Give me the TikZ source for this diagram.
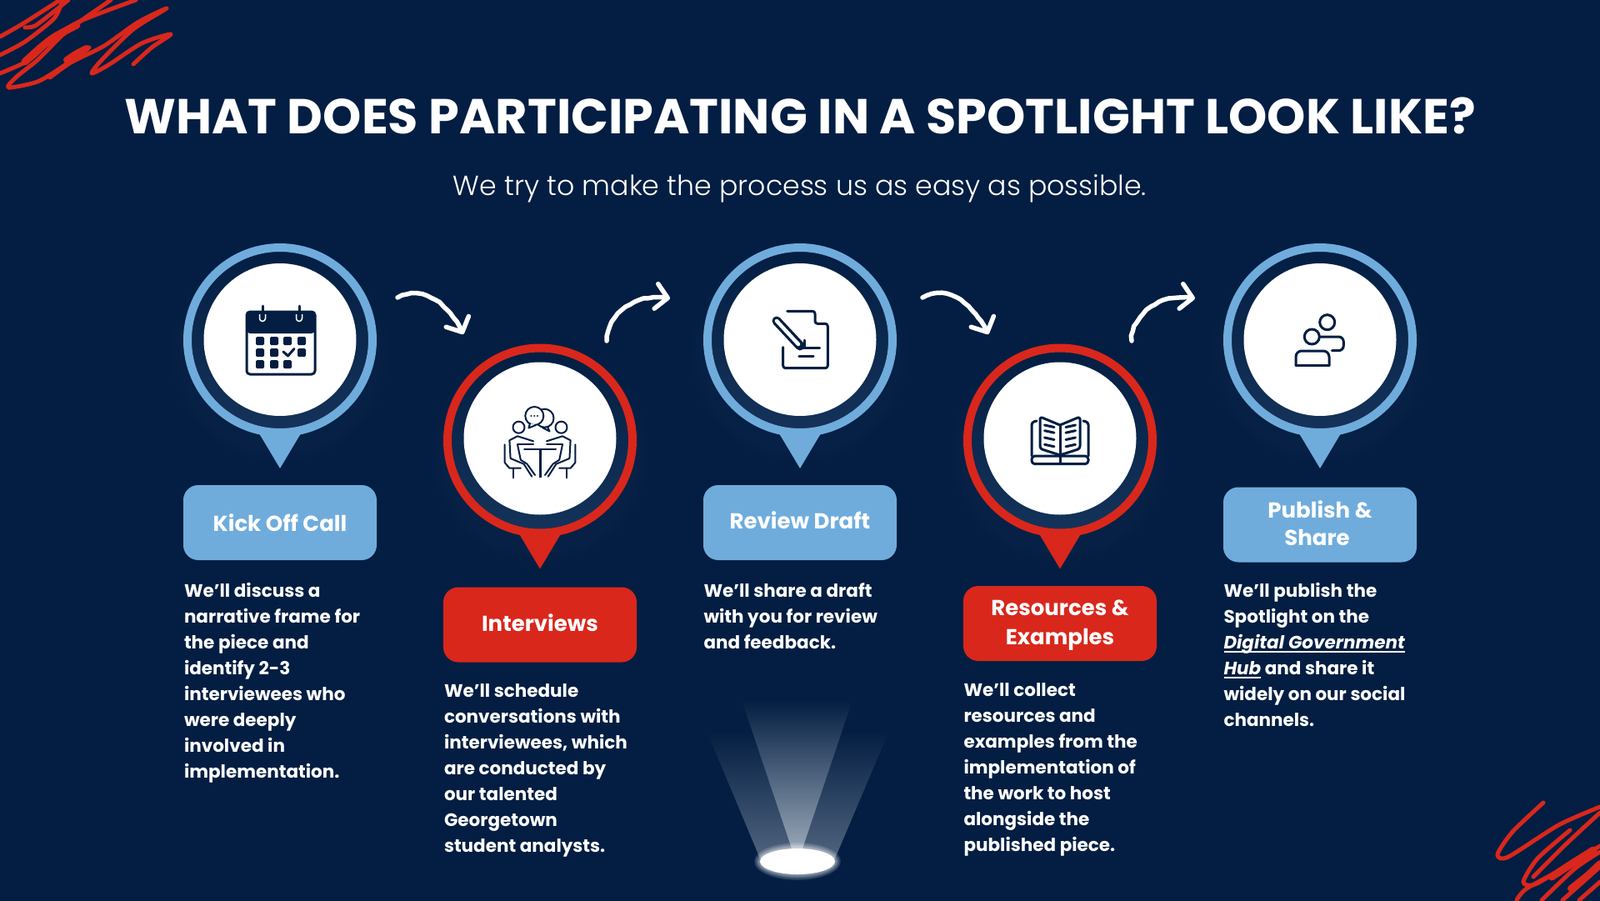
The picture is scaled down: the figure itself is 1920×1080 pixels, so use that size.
\documentclass[tikz,border=0pt]{standalone}
\usepackage{fontspec}
\setmainfont{Poppins}
\newfontfamily\lightfont{Poppins Light}
\usetikzlibrary{arrows.meta,decorations.pathmorphing}
\definecolor{navybg}{RGB}{3,30,66}
\definecolor{navyglow}{RGB}{21,51,90}
\definecolor{pinblue}{RGB}{111,172,220}
\definecolor{pinred}{RGB}{217,39,28}
\definecolor{beamlow}{RGB}{80,100,126}
\definecolor{beamhigh}{RGB}{150,165,182}
\newlength\hublen
\newcommand\hublink[1]{\settowidth{\hublen}{#1}\rlap{\rule[-5pt]{\hublen}{1.8pt}}#1}
\newcommand\liftlabel[2]{\raisebox{#1}[\height][\depth]{#2}}
\tikzset{
  ringnode/.style={circle,draw=#1,line width=10pt,minimum size=222pt,inner sep=0pt,
    top color=navybg,middle color=navybg,bottom color=navyglow},
  facenode/.style={circle,fill=white,minimum size=183pt,inner sep=0pt},
  labelbox/.style={rectangle,rounded corners=18pt,minimum width=232pt,minimum height=90pt,
    inner sep=0pt,align=center,text=white,font=\fontsize{26}{35}\selectfont\bfseries},
  bodytext/.style={anchor=north west,inner sep=0pt,align=left,text=white,
    font=\fontsize{21.5}{31}\selectfont\bfseries},
  iconline/.style={draw=navybg,line width=3pt,line cap=round,line join=round},
  thinline/.style={draw=navybg,line width=2pt,line cap=round,line join=round},
  bendarrow/.style={draw=white,line width=5.5pt,line cap=round,line join=round,
    decoration={random steps,segment length=6pt,amplitude=.7pt,post length=9pt},decorate,
    -{Straight Barb[length=14pt,width=30pt,line width=5.5pt,round]}},
  scribble/.style={draw=pinred,line width=5pt,line cap=round,line join=round},
}
\begin{document}
\begin{tikzpicture}[x=1pt,y=-1pt]
  \useasboundingbox (0,0) rectangle (1920,1080);
  \fill[navybg] (-2,-2) rectangle (1922,1082);

  % corner scribbles
  \draw[scribble] plot[smooth,tension=.45] coordinates {(160,77) (182,57) (205,41) (170,52) (130,78) (110,88) (122,72) (160,35) (200,10) (165,27) (125,55) (85,75) (60,93)};
  \draw[scribble] plot[smooth,tension=.45] coordinates {(107,57) (75,80) (45,98) (10,105) (20,92) (45,72) (75,42) (97,25) (133,0)};
  \draw[scribble] plot[smooth,tension=.45] coordinates {(163,0) (97,25) (65,45) (35,72) (0,88)};
  \draw[scribble] plot[smooth,tension=.45] coordinates {(0,44) (28,28) (72,0)};
  \draw[scribble] plot[smooth,tension=.45] coordinates {(0,66) (30,50) (65,22) (75,0)};
  \draw[scribble] plot[smooth,tension=.45] coordinates {(30,33) (42,31) (62,16) (82,0)};
  \draw[scribble,line width=9pt] plot[smooth,tension=.45] coordinates {(30,74) (50,56) (66,44) (92,30)};
  \draw[scribble,line width=8pt] plot[smooth,tension=.45] coordinates {(80,72) (92,64) (104,58)};
  \draw[scribble] plot[smooth,tension=.45] coordinates {(1852,963) (1815,998) (1797,1025) (1810,1028) (1870,990) (1920,968)};
  \draw[scribble] plot[smooth,tension=.45] coordinates {(1884,996) (1845,1030) (1828,1058) (1842,1061) (1883,1037) (1920,1015)};
  \draw[scribble] plot[smooth,tension=.45] coordinates {(1920,975) (1880,1012) (1840,1052)};
  \draw[scribble] plot[smooth,tension=.45] coordinates {(1820,1080) (1832,1066) (1880,1040)};
  \draw[scribble] plot[smooth,tension=.45] coordinates {(1850,1080) (1890,1042) (1920,1022)};
  \draw[scribble] plot[smooth,tension=.45] coordinates {(1875,1080) (1920,1040)};
  \draw[scribble] plot[smooth,tension=.45] coordinates {(1895,1080) (1920,1058)};
  \draw[scribble,line width=9pt] plot[smooth,tension=.45] coordinates {(1862,1052) (1885,1037) (1912,1020)};
  \draw[scribble,line width=8pt] plot[smooth,tension=.45] coordinates {(1885,1066) (1905,1050) (1920,1036)};

  \node[text=white,font=\fontsize{58.9}{64}\selectfont\bfseries] (titleText) at (960,139) {WHAT DOES PARTICIPATING IN A SPOTLIGHT LOOK LIKE?};
  \node[text=white,font=\fontsize{33.2}{40}\selectfont\lightfont] (subText) at (960,226) {We try to make the process us as easy as possible.};

  % pins
  \foreach \p/\c/\x/\y/\f in {A/pinblue/336/408/407.5,B/pinred/648/528.5/526,C/pinblue/960/408/407.5,D/pinred/1272/528.5/526,E/pinblue/1584/408/407.5}{
    \foreach \r in {130,125,120}{
      \fill[navyglow,opacity=.07] ({\x},{\y+16}) circle (\r);
    }
    \node[ringnode=\c] (pin\p) at (\x,\y) {};
    \path (pin\p) ++(-25,112) coordinate (tip\p l) ++(50,0) coordinate (tip\p r) ++(-25,42) coordinate (tip\p);
    \fill[\c] (tip\p l) -- (tip\p r) -- (tip\p) -- cycle;
    \node[facenode] (face\p) at (\x,\f) {};
  }

  % labels
  \node[labelbox,fill=pinblue] (labelA) at (336,627) {Kick Off Call};
  \node[labelbox,fill=pinred] (labelB) at (648,749.5) {\liftlabel{2.4pt}{Interviews}};
  \node[labelbox,fill=pinblue] (labelC) at (960,627) {\liftlabel{3pt}{Review Draft}};
  \node[labelbox,fill=pinred] (labelD) at (1272,748) {\liftlabel{-2.4pt}{Resources \&}\\\liftlabel{-2.4pt}{Examples}};
  \node[labelbox,fill=pinblue] (labelE) at (1584,629.5) {\liftlabel{1.2pt}{Publish \&}\\\liftlabel{2.4pt}{Share}\hspace*{7pt}};

  % body text
  \path (labelA.south west) ++(1,27) node[bodytext] (textA) {We’ll discuss a\\narrative frame for\\the piece and\\identify 2-3\\interviewees who\\were deeply\\involved in\\implementation.};
  \path (labelB.south west) ++(1,26) node[bodytext] (textB) {We’ll schedule\\conversations with\\interviewees, which\\are conducted by\\our talented\\Georgetown\\student analysts.};
  \path (labelC.south west) ++(0.5,27) node[bodytext] (textC) {We’ll share a draft\\with you for review\\and feedback.};
  \path (labelD.south west) ++(0.5,26) node[bodytext] (textD) {We’ll collect\\resources and\\examples from the\\implementation of\\the work to host\\alongside the\\published piece.};
  \path (labelE.south west) ++(0.5,24) node[bodytext] (textE) {We’ll publish the\\Spotlight on the\\\hublink{\textit{Digital Government}}\\\hublink{\textit{Hub}} and share it\\widely on our social\\channels.};

  % arrows
  \coordinate (bendAs) at (477,357);
  \coordinate (bendAe) at (556,401);
  \draw[bendarrow] (bendAs) .. controls +(30,-15) and +(-18,-38) .. (bendAe);
  \coordinate (bendBs) at (728,409);
  \coordinate (bendBe) at (804,358);
  \draw[bendarrow] (bendBs) .. controls +(0,-32) and +(-40,-8) .. (bendBe);
  \coordinate (bendCs) at (1107,357);
  \coordinate (bendCe) at (1186,401);
  \draw[bendarrow] (bendCs) .. controls +(30,-15) and +(-18,-38) .. (bendCe);
  \coordinate (bendDs) at (1358,409);
  \coordinate (bendDe) at (1434,358);
  \draw[bendarrow] (bendDs) .. controls +(0,-32) and +(-40,-8) .. (bendDe);

  % spotlight
  \shade[top color=navybg,bottom color=beamlow] (912,1030) -- (848,877) -- (1067,877) -- (1002,1030) -- cycle;
  \shade[top color=navybg,bottom color=beamhigh] (950,1018) -- (890,840) -- (1023,840) -- (963,1018) -- cycle;
  \foreach \g in {7,5.5,4,3,2,1}{
    \fill[white,opacity=.12] (957,1033.5) ellipse ({45+\g} and {15.5+\g});
  }
  \fill[white] (957,1033.5) ellipse (45 and 15.5);

  % calendar icon
  \draw[iconline,fill=white,rounded corners=4pt] (296,374) rectangle (378,449);
  \fill[navybg,rounded corners=4pt] (296,374) rectangle (378,400);
  \foreach \k in {315,359}{
    \draw[iconline] (\k,367) -- (\k,378);
    \draw[white,line width=1.5pt] ({\k-3.5},377) -- ({\k-3.5},382) arc (180:0:3.5) -- ({\k+3.5},377);
  }
  \foreach \i in {307,324,340,357}{
    \foreach \j in {404,418}{
      \fill[navybg,rounded corners=1.5pt] (\i,\j) rectangle +(10,10);
    }
  }
  \foreach \i in {307,324,340}{
    \fill[navybg,rounded corners=1.5pt] (\i,432) rectangle +(10,10);
  }
  \fill[white] (339,417) rectangle +(13,12);
  \draw[iconline] (340,422) -- (345.5,427) -- (353,418.5);

  % meeting icon
  \begin{scope}[shift={(648,0)}]
    \draw[thinline,fill=white] (5.5,501.7) circle (11) (9,512) -- (11.5,517.5) -- (3,513);
    \draw[thinline,fill=white] (-6.7,499) circle (11);
    \draw[thinline,fill=white] (-12,508) -- (-13.6,513.5) -- (-5,510);
    \foreach \i in {-10.5,-6.7,-3}{
      \fill[navybg] (\i,499) circle (1.1);
    }
    \draw[thinline] (-19,539.3) -- (19,539.3);
    \draw[iconline,line cap=butt] (0,539.3) -- (0,573.3);
    \foreach \s in {1,-1}{
      \begin{scope}[xscale=\s]
        \draw[thinline] (-25.5,512.7) circle (7);
        \draw[thinline] (-8,529.3) -- (-27,523.3) -- (-36.6,528.3) -- (-35.4,550) -- (-19.4,556.7) -- (-9.8,571.7);
        \draw[thinline] (-27,533.3) -- (-23.2,551.7) -- (-15.5,556.7) -- (-6,570);
        \draw[thinline] (-27,533.3) -- (-8,533.3);
        \draw[thinline] (-42.3,533.3) -- (-42.3,555) -- (-36.6,561.7) -- (-23.2,561.7);
        \draw[thinline] (-31.6,561.7) -- (-31.6,573.3);
      \end{scope}
    }
  \end{scope}

  % draft icon
  \draw[iconline,rounded corners=3pt] (944.7,373.3) -- (978,373.3) -- (978,388.3) -- (993.3,388.3) -- (993.3,441.7) -- (939.7,441.7) -- (939.7,416.7);
  \draw[draw=navybg,line width=11pt,line cap=round] (932,385) -- (960,415);
  \draw[draw=white,line width=4.5pt,line cap=round] (932,385) -- (958,413);
  \draw[iconline] (965,408) -- (965,417.3);
  \draw[iconline] (957,417.3) -- (983.7,417.3);
  \draw[iconline] (958.8,427.3) -- (976,427.3);

  % book icon
  \foreach \s in {1,-1}{
    \begin{scope}[shift={(1272,0)},xscale=\s]
      \draw[iconline,rounded corners=3pt] (0,510) -- (-24,500) -- (-24,538.3) -- (0,546);
      \draw[iconline,rounded corners=3pt] (-28,505) -- (-34,506.7) -- (-34,547);
      \foreach \j in {510,516.7,525,533.3}{
        \draw[iconline] (-18.5,\j) -- (-7,{\j+2.5});
      }
    \end{scope}
  }
  \draw[iconline] (1272,510) -- (1272,556);
  \draw[iconline,rounded corners=4pt] (1238,547) rectangle (1306,556.7);

  % sharing icon
  \draw[iconline,rounded corners=6pt] (1583.3,404) -- (1612.3,404) -- (1612.3,420.7) -- (1598.3,420.7);
  \draw[iconline,rounded corners=7pt] (1555,438.3) -- (1555,421) -- (1595,421) -- (1595,438.3);
  \draw[iconline] (1555,438.3) -- (1595,438.3);
  \draw[iconline,fill=white] (1592.7,386.7) circle (9);
  \draw[iconline,fill=white] (1574.3,404) circle (9);
\end{tikzpicture}
\end{document}
